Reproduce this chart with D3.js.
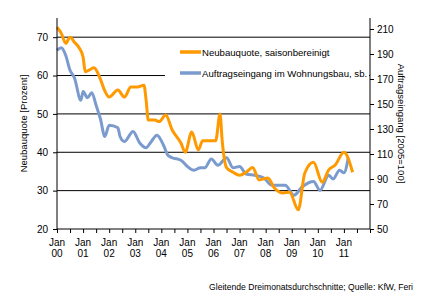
<!DOCTYPE html>
<html>
<head>
<meta charset="utf-8">
<script src="https://cdn.jsdelivr.net/npm/d3@7"></script>
<style>
  body { margin: 0; background: #fff; }
  text { font-family: "Liberation Sans", Arial, sans-serif; fill: #000; }
</style>
</head>
<body>
<div class="chart"></div>
<script>
// months since Jan 2000
const quoteMonths = [0,2,4,6,8,10,12,13,15,17,20,22,24,28,31,34,37,40,41,42,45,47,50,53,57,59,62,65,67,70,73,75,76,78,81,84,87,90,93,97,100,104,107,111,114,118,122,125,128,132,136];
const quoteValues = [72.6,71,68.4,70,68.7,67.4,64.8,61,61.5,62,59,56,54.4,56.2,54.4,57,57,57.5,53.6,48.4,48.4,48,49.7,45.8,42.4,40,45.3,40.6,43,43,43,50,43,36,34.8,34,34.8,36,32.8,33.3,30.7,29.4,29.6,25,34.6,37.4,32.2,35.4,36.7,40,34.8];

const orderMonths = [0,2,4,6,8,11,12,14,16,18,20,22,24,28,29,31,35,38,41,43,46,49,51,53,57,60,63,66,68,71,74,78,81,84,87,91,95,99,105,109,113,118,121,125,127,130,132,134];
const orderValues = [193,195,189,177,171,153,160,155,159,149,138,124,133,131,124,120,128,119,115,119,125,117,109,107,105,100,97,99,99,106,101,107,99,100,94,93,91,85,85,77,84,88,81,93,90,97,95,107];

const leftTicks = [20,30,40,50,60,70];
const rightTicks = [50,70,90,110,130,150,170,190,210];
const yearLabels = ["00","01","02","03","04","05","06","07","08","09","10","11"];
const legendLabels = ["Neubauquote, saisonbereinigt", "Auftragseingang im Wohnungsbau, sb."];

let outWidth = 423, outHeight = 299;
let margin = {top:18, right:53, left:57, bottom:70};
let width = outWidth - margin.left - margin.right,
    height = outHeight - margin.top - margin.bottom;

const orange = "#ff9900", blue = "#7b9bcf";

const svg = d3.select('.chart').append('svg')
  .attr("width", outWidth)
  .attr("height", outHeight);

const g = svg.append("g")
  .attr("transform", `translate(${margin.left}, ${margin.top})`);

const xScale = d3.scaleLinear().domain([0, 144]).range([0, width]);
const leftScale = d3.scaleLinear().domain([20, 75]).range([height, 0]);
const rightScale = d3.scaleLinear().domain([50, 218.8]).range([height, 0]);

// gridlines
g.selectAll("line.grid")
  .data(leftTicks.slice(1))
  .enter().append("line")
  .attr("class", "grid")
  .attr("x1", 0).attr("x2", width)
  .attr("y1", d => leftScale(d)).attr("y2", d => leftScale(d))
  .attr("stroke", "#000").attr("stroke-width", 1);

// lines
const quote = quoteMonths.map((m, i) => [m, quoteValues[i]]);
const order = orderMonths.map((m, i) => [m, orderValues[i]]);

g.append("path")
  .datum(order)
  .attr("fill", "none")
  .attr("stroke", blue)
  .attr("stroke-width", 3)
  .attr("stroke-linejoin", "round")
  .attr("d", d3.line().x(d => xScale(d[0])).y(d => rightScale(d[1])).curve(d3.curveMonotoneX));

g.append("path")
  .datum(quote)
  .attr("fill", "none")
  .attr("stroke", orange)
  .attr("stroke-width", 3)
  .attr("stroke-linejoin", "round")
  .attr("d", d3.line().x(d => xScale(d[0])).y(d => leftScale(d[1])).curve(d3.curveMonotoneX));

// legend box (hides part of the 60 gridline)
g.append("rect")
  .attr("x", 108).attr("y", 24)
  .attr("width", width - 109).attr("height", 46)
  .attr("fill", "#fff");

const legend = g.selectAll("g.legend")
  .data(legendLabels)
  .enter().append("g")
  .attr("class", "legend")
  .attr("transform", (d, i) => `translate(123, ${34 + i * 21})`);
legend.append("line")
  .attr("x1", 0).attr("x2", 21)
  .attr("stroke", (d, i) => i ? blue : orange)
  .attr("stroke-width", 3.5);
legend.append("text")
  .attr("x", 22).attr("y", 4)
  .style("font-size", "9.6px")
  .text(d => d);

// axes
const xAxis = d3.axisBottom(xScale)
  .tickValues(d3.range(0, 145, 6))
  .tickSize(4)
  .tickFormat("");
g.append("g")
  .attr("transform", `translate(0, ${height})`)
  .call(xAxis)
  .call(a => a.select(".domain").attr("d", `M0,0H${width}`));

const xLab = g.selectAll("g.xlab")
  .data(yearLabels)
  .enter().append("g")
  .attr("class", "xlab")
  .attr("transform", (d, i) => `translate(${xScale(i * 12)}, ${height})`);
xLab.append("text").attr("y", 17).attr("text-anchor", "middle").style("font-size", "10px").text("Jan");
xLab.append("text").attr("y", 28).attr("text-anchor", "middle").style("font-size", "10px").text(d => d);

const yAxis = d3.axisLeft(leftScale).tickValues(leftTicks).tickSize(4).tickPadding(5);
g.append("g")
  .call(yAxis)
  .call(a => a.select(".domain").attr("d", `M0,0V${height}`))
  .selectAll("text").style("font-size", "10px").style("font-family", "Liberation Sans, Arial, sans-serif");

const yAxis2 = d3.axisRight(rightScale).tickValues(rightTicks).tickSize(4).tickPadding(3);
g.append("g")
  .attr("transform", `translate(${width}, 0)`)
  .call(yAxis2)
  .call(a => a.select(".domain").attr("d", `M0,0V${height}`))
  .selectAll("text").style("font-size", "10px").style("font-family", "Liberation Sans, Arial, sans-serif");

// axis titles
svg.append("text")
  .attr("transform", `translate(27, ${margin.top + height / 2}) rotate(-90)`)
  .attr("text-anchor", "middle")
  .style("font-size", "9.5px")
  .text("Neubauquote [Prozent]");

svg.append("text")
  .attr("transform", `translate(398, ${margin.top + height / 2}) rotate(90)`)
  .attr("text-anchor", "middle")
  .style("font-size", "9.5px")
  .text("Auftragseingang [2005=100]");

svg.append("text")
  .attr("x", 413).attr("y", 290)
  .attr("text-anchor", "end")
  .style("font-size", "8.6px")
  .text("Gleitende Dreimonatsdurchschnitte; Quelle: KfW, Feri");
</script>
</body>
</html>
